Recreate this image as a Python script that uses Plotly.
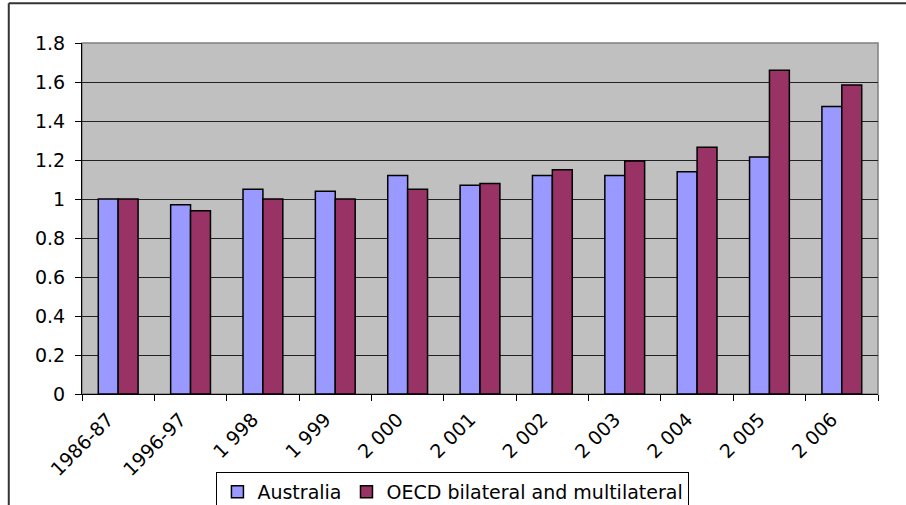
import plotly.graph_objects as go

categories = ["1986-87", "1996-97", "1 998", "1 999", "2 000", "2 001",
              "2 002", "2 003", "2 004", "2 005", "2 006"]
australia = [1.00, 0.97, 1.05, 1.04, 1.12, 1.07, 1.12, 1.12, 1.14, 1.215, 1.475]
oecd = [1.00, 0.94, 1.00, 1.00, 1.05, 1.08, 1.15, 1.195, 1.265, 1.66, 1.585]
y_ticks = [0, 0.2, 0.4, 0.6, 0.8, 1, 1.2, 1.4, 1.6, 1.8]

FONT = "DejaVu Sans, Arial, sans-serif"

fig = go.Figure()
fig.add_trace(go.Bar(name="Australia", x=categories, y=australia,
                     marker=dict(color="#9999FF", line=dict(color="#000000", width=1.5))))
fig.add_trace(go.Bar(name="OECD bilateral and multilateral", x=categories, y=oecd,
                     marker=dict(color="#993366", line=dict(color="#000000", width=1.5))))

fig.update_layout(
    width=906, height=505,
    margin=dict(l=82, r=28, t=43, b=111, autoexpand=False),
    paper_bgcolor="white",
    plot_bgcolor="#C0C0C0",
    barmode="group",
    bargap=0.45,
    bargroupgap=0,
    font=dict(family=FONT, color="black"),
    legend=dict(orientation="h", x=0.466, xanchor="center", y=-0.222, yanchor="top",
                bordercolor="black", borderwidth=1, bgcolor="white",
                font=dict(size=19, family=FONT), itemwidth=30, traceorder="normal"),
    xaxis=dict(tickangle=-45, tickfont=dict(size=19), ticks="outside", ticklen=6,
               tickson="boundaries", tickcolor="black", showline=True, linecolor="black",
               linewidth=1, showgrid=False, automargin=False, ticklabelstandoff=6,
               ticklabelshift=-10),
    yaxis=dict(range=[0, 1.8], tickvals=y_ticks, ticktext=[("%g" % v) for v in y_ticks],
               tickfont=dict(size=19), ticks="outside", ticklen=6, tickcolor="black",
               showline=True, linecolor="black", linewidth=1, showgrid=True,
               gridcolor="#222222", gridwidth=1, zeroline=False, automargin=False,
               ticklabelstandoff=6),
    shapes=[
        dict(type="rect", xref="paper", yref="paper", x0=0, x1=1, y0=0, y1=1,
             line=dict(color="#808080", width=1.5), layer="below"),
        dict(type="line", xref="paper", yref="paper", x0=-0.092, x1=1.2, y0=1.113, y1=1.113,
             line=dict(color="#333333", width=2)),
        dict(type="line", xref="paper", yref="paper", x0=-0.092, x1=-0.092, y0=1.113, y1=-0.5,
             line=dict(color="#333333", width=2)),
    ],
)

fig.write_html("out.html")
